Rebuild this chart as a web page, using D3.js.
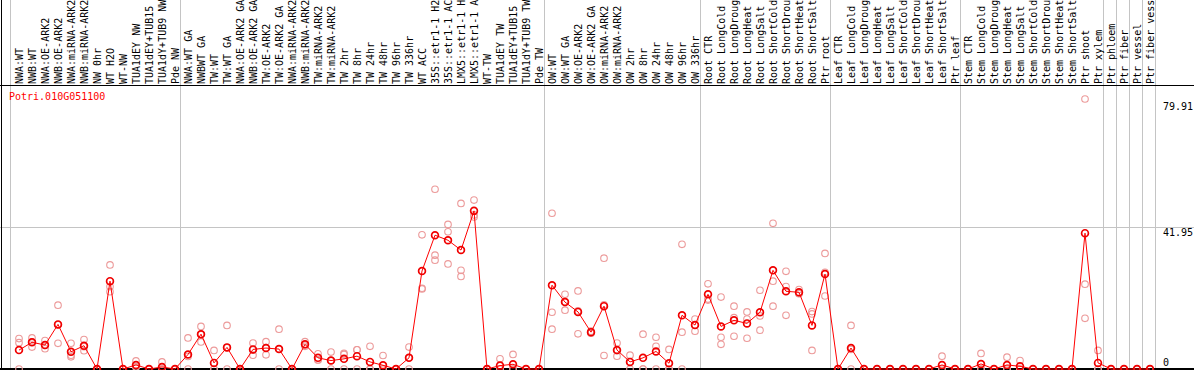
<!DOCTYPE html>
<html>
<head>
<meta charset="utf-8">
<script src="https://cdn.jsdelivr.net/npm/d3@7"></script>
<style>
  body { margin: 0; background: #fff; }
  svg { display: block; }
  text { font-family: "DejaVu Sans Mono", monospace; font-size: 10px; }
</style>
</head>
<body>
<div id="chart-area"></div>
<script>
const geneId = "Potri.010G051100"

const samples = [
  "NWA:WT", "NWB:WT", "NWA:OE-ARK2", "NWB:OE-ARK2", "NWA:miRNA-ARK2", "NWB:miRNA-ARK2",
  "NW 0hr", "WT H2O", "WT-NW", "TUA1dEY NW", "TUA1dEY+TUB15 NW", "TUA1dY+TUB9 NW", "Pde NW",
  "NWA:WT GA", "NWBWT GA", "TW:WT", "TW:WT GA", "NWA:OE-ARK2 GA", "NWB:OE-ARK2 GA",
  "TW:OE-ARK2", "TW:OE-ARK2 GA", "NWA:miRNA-ARK2", "NWB:miRNA-ARK2", "TW:miRNA-ARK2",
  "TW:miRNA-ARK2", "TW 2hr", "TW 8hr", "TW 24hr", "TW 48hr", "TW 96hr", "TW 336hr",
  "WT ACC", "35S::etr1-1 H2O", "35S::etr1-1 ACC", "LMX5::etr1-1 H2O", "LMX5::etr1-1 ACC",
  "WT-TW", "TUA1dEY TW", "TUA1dEY+TUB15 TW", "TUA1dY+TUB9 TW", "Pde TW",
  "OW:WT", "OW:WT GA", "OW:OE-ARK2", "OW:OE-ARK2 GA", "OW:miRNA-ARK2", "OW:miRNA-ARK2",
  "OW 2hr", "OW 8hr", "OW 24hr", "OW 48hr", "OW 96hr", "OW 336hr",
  "Root CTR", "Root LongCold", "Root LongDrought", "Root LongHeat", "Root LongSalt",
  "Root ShortCold", "Root ShortDrought", "Root ShortHeat", "Root ShortSalt", "Ptr root",
  "Leaf CTR", "Leaf LongCold", "Leaf LongDrought", "Leaf LongHeat", "Leaf LongSalt",
  "Leaf ShortCold", "Leaf ShortDrought", "Leaf ShortHeat", "Leaf ShortSalt", "Ptr leaf",
  "Stem CTR", "Stem LongCold", "Stem LongDrought", "Stem LongHeat", "Stem LongSalt",
  "Stem ShortCold", "Stem ShortDrought", "Stem ShortHeat", "Stem ShortSalt", "Ptr shoot",
  "Ptr xylem", "Ptr phloem", "Ptr fiber", "Ptr vessel", "Ptr fiber vessel"
]

// mean expression per sample
const means = [
  5.6, 7.9, 7.1, 13.2, 5.1, 6.9, 0, 26.0, 0, 1.2, 0, 0.6, 0,
  4.3, 10.3, 1.8, 6.4, 0, 5.8, 6.2, 5.9, 0, 7.3, 3.3, 2.5, 3.0, 3.8, 2.1, 1.1, 0, 3.3,
  29.0, 39.6, 38.1, 35.2, 46.8, 0, 1.0, 1.4, 0, 0,
  24.8, 19.8, 16.9, 10.9, 18.6, 5.6, 2.1, 3.3, 5.2, 1.7, 15.9, 13.0,
  22.1, 12.6, 14.4, 13.5, 16.8, 29.2, 23.0, 22.7, 12.9, 28.1,
  0, 6.2, 0, 0, 0, 0, 0, 0, 1.2, 0,
  0, 1.5, 0, 1.2, 0.8, 0, 0, 0, 0, 40.2,
  1.8, 0, 0, 0, 0
]

// replicate values per sample
const replicates = [
  [9.0, 7.8, 0], [9.2, 8.0, 6.5], [8.4, 7.0, 6.0], [18.9, 13.1, 7.6], [7.6, 4.1, 3.6],
  [8.7, 6.6, 5.4], [0, 0, 0], [30.8, 24.4, 22.9], [0, 0, 0], [2.4, 0.7, 0.5], [0, 0, 0],
  [2.1, 0, 0], [0, 0, 0],
  [9.2, 3.7, 0], [12.6, 10.3, 8.0], [5.5, 0, 0], [12.9, 6.3, 0], [0, 0, 0], [7.7, 5.6, 4.1],
  [8.1, 6.3, 4.2], [11.8, 5.9, 0], [0, 0, 0], [8.1, 7.1, 6.7], [4.5, 2.7, 2.7], [5.0, 2.5, 0],
  [4.6, 4.3, 0], [5.7, 5.7, 0], [6.7, 0, 0], [4.0, 0, 0], [0, 0, 0], [6.5, 3.4, 0],
  [39.7, 23.9, 23.7], [53.2, 33.7, 32.2], [42.8, 40.6, 31.1], [49.0, 29.2, 27.4],
  [50.0, 45.6, 45.0], [0, 0, 0], [3.0, 0, 0], [4.3, 0, 0], [0, 0, 0], [0, 0, 0],
  [46.1, 16.8, 11.8], [22.1, 19.9, 17.4], [23.1, 17.2, 10.4], [11.2, 10.8, 10.6],
  [32.8, 19.0, 4.0], [7.7, 5.4, 3.8], [4.1, 2.1, 0], [10.3, 0, 0], [9.4, 6.7, 0],
  [5.8, 0, 0], [36.9, 10.9, 0], [14.8, 13.0, 11.2],
  [25.2, 20.7, 20.4], [21.3, 9.4, 7.3], [18.6, 15.2, 9.7], [16.9, 14.8, 9.1],
  [23.3, 15.7, 11.5], [43.1, 26.0, 18.6], [28.9, 24.4, 15.9], [23.5, 22.4, 22.3],
  [17.0, 16.3, 5.5], [34.2, 28.6, 21.6],
  [0, 0, 0], [12.9, 5.8, 0], [0, 0, 0], [0, 0, 0], [0, 0, 0], [0, 0, 0], [0, 0, 0],
  [0, 0, 0], [3.8, 0, 0], [0, 0, 0],
  [0, 0, 0], [4.6, 0, 0], [0, 0, 0], [3.5, 0, 0], [2.5, 0, 0], [0, 0, 0], [0, 0, 0],
  [0, 0, 0], [0, 0, 0], [79.91, 25.1, 15.0],
  [5.5, 0, 0], [0, 0, 0], [0, 0, 0], [0, 0, 0], [0, 0, 0]
]

// group separators drawn after these sample indexes (0-based)
const groupEnds = [12, 40, 52, 62, 72, 83, 84, 85, 86, 87]
const yTicks = [79.91, 41.95, 0]

const WIDTH = 1194
const HEIGHT = 370
const HEADER = 86

const svg = d3.select("#chart-area").append("svg")
  .attr("width", WIDTH)
  .attr("height", HEIGHT)

const x = d3.scaleLinear()
  .domain([0, samples.length - 1])
  .range([19, 1150])

const y = d3.scaleLinear()
  .domain([0, 79.91])
  .range([369, 99])

// horizontal grid line at middle tick
svg.append("line")
  .attr("x1", 0).attr("x2", WIDTH)
  .attr("y1", Math.round(y(41.95)) + 0.5).attr("y2", Math.round(y(41.95)) + 0.5)
  .attr("stroke", "#c4c4c4")

// vertical separators
const seps = [-0.7].concat(groupEnds.map(i => i + 0.41))
svg.selectAll(".sep")
  .data(seps)
  .enter().append("line")
  .attr("class", "sep")
  .attr("x1", d => Math.round(x(d)) + 0.5)
  .attr("x2", d => Math.round(x(d)) + 0.5)
  .attr("y1", 0).attr("y2", HEIGHT)
  .attr("stroke", "#c4c4c4")

// frame lines
svg.append("line")
  .attr("x1", 0).attr("x2", WIDTH).attr("y1", HEADER - 0.5).attr("y2", HEADER - 0.5)
  .attr("stroke", "#000")
svg.append("line")
  .attr("x1", 0).attr("x2", WIDTH).attr("y1", HEIGHT - 1).attr("y2", HEIGHT - 1)
  .attr("stroke", "#000").attr("stroke-width", 2)
svg.append("line")
  .attr("x1", 1.5).attr("x2", 1.5).attr("y1", 0).attr("y2", HEIGHT)
  .attr("stroke", "#000")

// sample labels, rotated
svg.selectAll(".label")
  .data(samples)
  .enter().append("text")
  .attr("class", "label")
  .attr("transform", (d, i) => `translate(${x(i) + 3.5}, 84) rotate(-90)`)
  .attr("fill", "#000")
  .text(d => d)

// gene name
svg.append("text")
  .attr("x", 9)
  .attr("y", 100)
  .attr("fill", "#ff0000")
  .text(geneId)

// y tick values on the right
svg.selectAll(".ytick")
  .data(yTicks)
  .enter().append("text")
  .attr("class", "ytick")
  .attr("x", 1163)
  .attr("y", d => d === 0 ? 366 : Math.max(y(d) + 9, 110))
  .attr("fill", "#000")
  .text(d => d)

// replicate points
const repPoints = []
replicates.forEach((r, i) => r.forEach(v => repPoints.push({ i: i, v: v })))

svg.selectAll(".rep")
  .data(repPoints)
  .enter().append("circle")
  .attr("class", "rep")
  .attr("cx", d => x(d.i))
  .attr("cy", d => y(d.v))
  .attr("r", 3.3)
  .attr("fill", "none")
  .attr("stroke", "#ec9a9a")
  .attr("stroke-width", 1.1)

// mean line
const line = d3.line()
  .x((d, i) => x(i))
  .y(d => y(d))

svg.append("path")
  .datum(means)
  .attr("d", line)
  .attr("fill", "none")
  .attr("stroke", "#ff0000")
  .attr("stroke-width", 1)

svg.selectAll(".mean")
  .data(means)
  .enter().append("circle")
  .attr("class", "mean")
  .attr("cx", (d, i) => x(i))
  .attr("cy", d => y(d))
  .attr("r", 3.4)
  .attr("fill", "none")
  .attr("stroke", "#f00000")
  .attr("stroke-width", 1.7)
</script>
</body>
</html>
